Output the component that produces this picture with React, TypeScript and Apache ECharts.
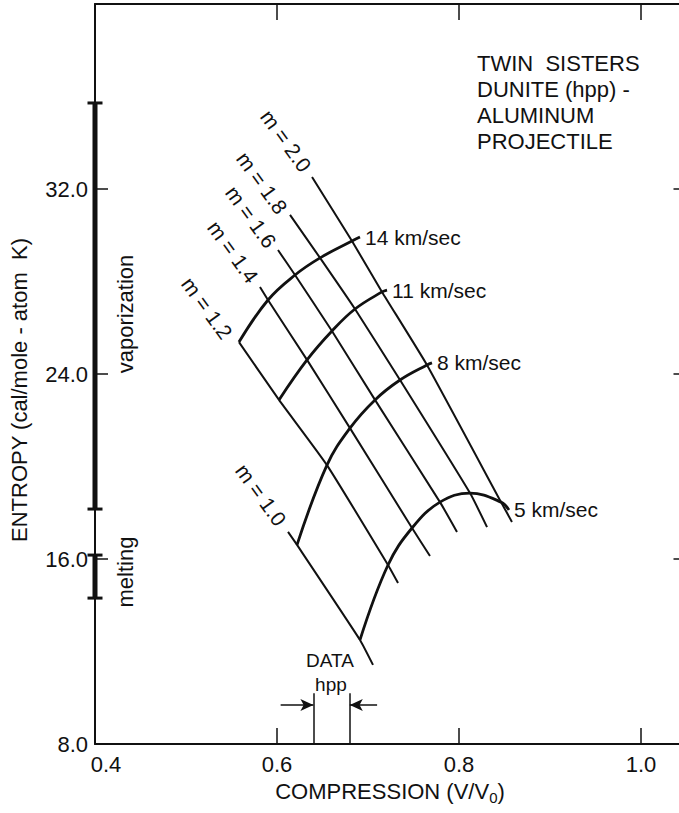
import React, { useEffect, useRef } from 'react';
import * as echarts from 'echarts';

const FONT = '"Liberation Sans", Arial, sans-serif';
const INK = '#111';

// Axis ranges: compression V/V0 and entropy (cal/mole-atom K)
const xRange = [0.4, 1.05];
const xStep = 0.2;
const yRange = [8, 40];
const yStep = 8;

// Constant-m curves (m = 1.0 ... 2.0)
const mValues = ['1.0', '1.2', '1.4', '1.6', '1.8', '2.0'];
const mStart = [[0.6121, 17.17], [0.5582, 25.38], [0.5813, 27.76], [0.6011, 29.36], [0.6143, 30.88], [0.6385, 32.52]];
const mEnd = [[0.7055, 11.42], [0.733, 14.96], [0.7681, 16.13], [0.7978, 17.17], [0.8308, 17.38], [0.8582, 17.6]];
const mLabelAt = [[0.5824, 18.77], [0.5231, 26.85], [0.5516, 29.28], [0.5714, 30.79], [0.5835, 32.26], [0.6099, 34.08]];

// Impact-velocity curves: crossing with each m curve (null = no crossing)
const speedNames = ['14 km/sec', '11 km/sec', '8 km/sec', '5 km/sec'];
const cross14 = [null, [0.5582, 25.38], [0.5901, 27.2], [0.6198, 28.28], [0.6473, 29.02], [0.6824, 29.75]];
const cross11 = [null, [0.6022, 22.88], [0.633, 24.61], [0.6604, 25.86], [0.6857, 26.81], [0.7154, 27.55]];
const cross8 = [[0.622, 16.61], [0.6549, 20.06], [0.6802, 21.66], [0.7077, 22.88], [0.7352, 23.74], [0.7648, 24.39]];
const cross5 = [[0.6912, 12.5], [0.722, 15.74], [0.7484, 17.34], [0.7791, 18.46], [0.8121, 18.85], [0.8462, 18.46]];
const speedTail = [[0.6912, 29.92], [0.7209, 27.63], [0.7703, 24.48], [0.8549, 18.12]];

// Phase bands marked on the entropy axis
const vaporization = [18.16, 35.72];
const melting = [14.31, 16.17];

// Compression range of the hpp data
const hppRange = [0.64, 0.68];
const hppArrowFrom = [0.604, 0.71];
const hppArrowY = 9.69;
const hppTop = 10.2;
const hppText = ['DATA', 'hpp'];
const hppTextAt = [[0.6582, 11.63], [0.6593, 10.59]];

const crossings = [cross14, cross11, cross8, cross5];

function same(a: number[], b: number[]) {
  return Math.abs(a[0] - b[0]) < 1e-9 && Math.abs(a[1] - b[1]) < 1e-9;
}

function mCurve(i: number) {
  const pts: number[][] = [mStart[i]];
  crossings.forEach((c) => {
    const p = c[i];
    if (p && !same(p, pts[pts.length - 1])) pts.push(p);
  });
  pts.push(mEnd[i]);
  return pts;
}

function speedCurve(k: number) {
  const pts = crossings[k].filter((p) => p) as number[][];
  pts.push(speedTail[k]);
  return pts;
}

function buildOption() {
  const series: any[] = [];

  mValues.forEach((_, i) => {
    series.push({
      type: 'line',
      data: mCurve(i),
      smooth: 0.15,
      symbol: 'none',
      silent: true,
      lineStyle: { color: INK, width: 2 },
      z: 3,
    });
  });

  speedNames.forEach((name, k) => {
    series.push({
      type: 'line',
      name,
      data: speedCurve(k),
      smooth: 0.4,
      symbol: 'none',
      silent: true,
      lineStyle: { color: INK, width: 2.8 },
      endLabel: {
        show: true,
        formatter: name,
        distance: 5,
        color: INK,
        fontSize: 21,
        fontFamily: FONT,
      },
      z: 4,
    });
  });

  [vaporization, melting].forEach((band) => {
    series.push({
      type: 'line',
      data: [[xRange[0], band[0]], [xRange[0], band[1]]],
      symbol: 'rect',
      symbolSize: [15, 3],
      showSymbol: true,
      itemStyle: { color: INK },
      lineStyle: { color: INK, width: 5 },
      clip: false,
      silent: true,
      z: 10,
    });
  });

  series.push({
    type: 'line',
    data: [],
    silent: true,
    markLine: {
      silent: true,
      symbol: ['none', 'none'],
      label: { show: false },
      lineStyle: { color: INK, width: 1.5, type: 'solid' },
      data: [
        [{ coord: [hppRange[0], yRange[0]] }, { coord: [hppRange[0], hppTop] }],
        [{ coord: [hppRange[1], yRange[0]] }, { coord: [hppRange[1], hppTop] }],
        [
          { coord: [hppArrowFrom[0], hppArrowY], symbol: 'none' },
          { coord: [hppRange[0], hppArrowY], symbol: 'arrow', symbolSize: [9, 13] },
        ],
        [
          { coord: [hppArrowFrom[1], hppArrowY], symbol: 'none' },
          { coord: [hppRange[1], hppArrowY], symbol: 'arrow', symbolSize: [9, 13] },
        ],
      ],
    },
    z: 6,
  });

  const onStep = (v: number) => Math.abs(v / xStep - Math.round(v / xStep)) < 1e-6;

  return {
    animation: false,
    backgroundColor: '#fff',
    grid: { left: 95, top: 4, width: 591.5, height: 740, containLabel: false },
    xAxis: [
      {
        type: 'value',
        position: 'bottom',
        min: xRange[0],
        max: xRange[1],
        interval: xStep,
        splitLine: { show: false },
        axisLine: { show: true, lineStyle: { color: INK, width: 2 } },
        axisTick: { show: true, inside: true, length: 16, lineStyle: { color: INK, width: 1.5 } },
        axisLabel: {
          show: true,
          showMaxLabel: false,
          margin: 9,
          color: INK,
          fontSize: 22,
          fontFamily: FONT,
          formatter: (v: number) => {
            if (!onStep(v)) return '';
            if (Math.abs(v - xRange[0]) < 1e-6) return '{first|' + v.toFixed(1) + '}';
            return v.toFixed(1);
          },
          rich: {
            first: { padding: [0, 0, 0, 22], fontSize: 22, color: INK, fontFamily: FONT },
          },
        },
      },
      {
        type: 'value',
        position: 'top',
        min: xRange[0],
        max: xRange[1],
        interval: xStep,
        splitLine: { show: false },
        axisLine: { show: true, lineStyle: { color: INK, width: 2 } },
        axisTick: { show: true, inside: true, length: 16, lineStyle: { color: INK, width: 1.5 } },
        axisLabel: { show: false },
      },
    ],
    yAxis: [
      {
        type: 'value',
        position: 'left',
        min: yRange[0],
        max: yRange[1],
        interval: yStep,
        splitLine: { show: false },
        axisLine: { show: true, lineStyle: { color: INK, width: 2 } },
        axisTick: { show: true, inside: true, length: 13, lineStyle: { color: INK, width: 1.5 } },
        axisLabel: {
          show: true,
          showMaxLabel: false,
          margin: 7,
          color: INK,
          fontSize: 22,
          fontFamily: FONT,
          formatter: (v: number) => v.toFixed(1),
        },
      },
      {
        type: 'value',
        position: 'right',
        min: yRange[0],
        max: yRange[1],
        interval: yStep,
        splitLine: { show: false },
        axisLine: { show: true, lineStyle: { color: INK, width: 2 } },
        axisTick: { show: true, inside: true, length: 13, lineStyle: { color: INK, width: 1.5 } },
        axisLabel: { show: false },
      },
    ],
    series,
  };
}

function staticTexts() {
  return [
    {
      type: 'text',
      x: 477,
      y: 50,
      style: {
        text: 'TWIN  SISTERS\nDUNITE (hpp) -\nALUMINUM\nPROJECTILE',
        fill: INK,
        font: '22px ' + FONT,
        lineHeight: 26,
        align: 'left',
        verticalAlign: 'top',
      },
    },
    {
      type: 'text',
      x: 19,
      y: 390,
      rotation: Math.PI / 2,
      style: {
        text: 'ENTROPY (cal/mole - atom  K)',
        fill: INK,
        font: '22px ' + FONT,
        align: 'center',
        verticalAlign: 'middle',
      },
    },
    {
      type: 'text',
      x: 125,
      y: 314,
      rotation: Math.PI / 2,
      style: { text: 'vaporization', fill: INK, font: '22px ' + FONT, align: 'center', verticalAlign: 'middle' },
    },
    {
      type: 'text',
      x: 125,
      y: 572,
      rotation: Math.PI / 2,
      style: { text: 'melting', fill: INK, font: '22px ' + FONT, align: 'center', verticalAlign: 'middle' },
    },
    {
      type: 'text',
      x: 390,
      y: 791,
      style: {
        text: 'COMPRESSION (V/V{sub|0})',
        fill: INK,
        font: '22px ' + FONT,
        align: 'center',
        verticalAlign: 'middle',
        rich: { sub: { fontSize: 15, fontFamily: FONT, fill: INK, padding: [12, 0, 0, 0] } },
      },
    },
  ];
}

// Labels anchored in data coordinates, placed through the grid's own scales
function anchoredTexts(chart: echarts.ECharts) {
  const out: any[] = [];
  mValues.forEach((m, i) => {
    const [px, py] = chart.convertToPixel({ gridIndex: 0 }, mLabelAt[i]) as number[];
    out.push({
      type: 'text',
      x: px,
      y: py,
      rotation: (-54 * Math.PI) / 180,
      style: { text: 'm = ' + m, fill: INK, font: '21px ' + FONT, align: 'center', verticalAlign: 'middle' },
      z: 20,
    });
  });
  hppText.forEach((t, i) => {
    const [px, py] = chart.convertToPixel({ gridIndex: 0 }, hppTextAt[i]) as number[];
    out.push({
      type: 'text',
      x: px,
      y: py,
      style: { text: t, fill: INK, font: '19px ' + FONT, align: 'center', verticalAlign: 'middle' },
      z: 20,
    });
  });
  return out;
}

export default function App() {
  const ref = useRef<HTMLDivElement>(null);
  useEffect(() => {
    if (!ref.current) return;
    const chart = echarts.init(ref.current, null, { renderer: 'svg' });
    chart.setOption(buildOption() as any);
    chart.setOption({ graphic: [...staticTexts(), ...anchoredTexts(chart)] } as any);
    return () => chart.dispose();
  }, []);
  return (
    <div
      style={{
        position: 'fixed',
        left: 0,
        top: 0,
        width: 679,
        height: 813,
        overflow: 'hidden',
        background: '#fff',
      }}
    >
      <div ref={ref} style={{ width: 700, height: 813 }} />
    </div>
  );
}
